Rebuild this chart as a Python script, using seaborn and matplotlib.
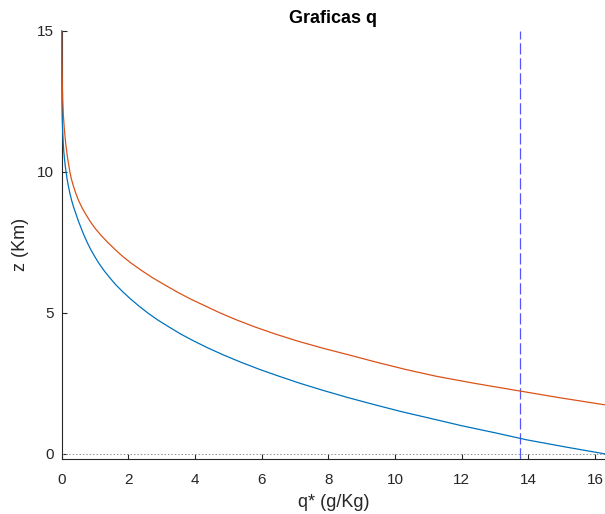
import matplotlib
matplotlib.use("Agg")
import matplotlib.pyplot as plt
import seaborn as sns
import pandas as pd

# --- data (height z in km, q* in g/kg) ---
z_blue = [0.0, 0.25, 0.5, 0.75, 1.0, 1.25, 1.5, 1.75, 2.0, 2.25, 2.5, 2.75,
          3.0, 3.25, 3.5, 3.75, 4.0, 4.25, 4.5, 4.75, 5.0, 5.25, 5.5, 5.75,
          6.0, 6.25, 6.5, 6.75, 7.0, 7.25, 7.5, 7.75, 8.0, 8.25, 8.5, 8.75,
          9.0, 9.25, 9.5, 9.75, 10.0, 10.25, 10.5, 10.75, 11.0, 11.5, 12.0,
          12.5, 13.0, 14.0, 15.0]
q_blue = [16.3, 15.1, 13.95, 13.0, 12.0, 11.1, 10.19, 9.37, 8.58, 7.85, 7.16, 6.53,
          5.93, 5.38, 4.87, 4.40, 3.97, 3.57, 3.22, 2.88, 2.58, 2.31, 2.06, 1.83,
          1.62, 1.44, 1.27, 1.12, 0.99, 0.87, 0.764, 0.669, 0.585, 0.502, 0.43, 0.356,
          0.295, 0.243, 0.2, 0.161, 0.13, 0.102, 0.08, 0.061, 0.047, 0.026, 0.014,
          0.007, 0.0035, 0.0008, 0.0002]

z_orange = [1.74, 2.0, 2.25, 2.5, 2.75, 3.0, 3.25, 3.5, 3.75, 4.0, 4.25, 4.5,
            4.75, 5.0, 5.25, 5.5, 5.75, 6.0, 6.25, 6.5, 6.75, 7.0, 7.25, 7.5,
            7.75, 8.0, 8.25, 8.5, 8.75, 9.0, 9.25, 9.5, 9.75, 10.0, 10.5, 11.0,
            11.5, 12.0, 12.5, 13.0, 13.5, 14.0, 14.5, 15.0]
q_orange = [16.3, 14.9, 13.65, 12.4, 11.25, 10.3, 9.45, 8.65, 7.83, 7.08, 6.41, 5.8,
            5.25, 4.75, 4.3, 3.85, 3.45, 3.08, 2.72, 2.4, 2.1, 1.83, 1.6, 1.38,
            1.18, 1.0, 0.85, 0.72, 0.6, 0.5, 0.42, 0.35, 0.29, 0.245, 0.175, 0.12,
            0.08, 0.05, 0.032, 0.02, 0.012, 0.007, 0.003, 0.0]

q_ref = 13.75          # vertical dashed line
x_ticks = [0, 2, 4, 6, 8, 10, 12, 14, 16]
y_ticks = [0, 5, 10, 15]
title = "Graficas q"
xlabel = "q* (g/Kg)"
ylabel = "z (Km)"

sns.set_theme(style="white")
plt.rcParams['font.family'] = ['Liberation Sans', 'DejaVu Sans']

fig = plt.figure(figsize=(6.05, 5.14), dpi=100)
ax = fig.add_axes([0.102, 0.107, 0.898, 0.833])

df = pd.concat([
    pd.DataFrame({"q": q_blue, "z": z_blue, "s": "blue"}),
    pd.DataFrame({"q": q_orange, "z": z_orange, "s": "orange"}),
])
sns.lineplot(data=df, x="q", y="z", hue="s", sort=False, estimator=None,
             palette={"blue": "#0072BD", "orange": "#D95319"},
             linewidth=0.9, legend=False, ax=ax, zorder=3, clip_on=False)

ax.axvline(q_ref, color="#5555ff", linewidth=0.9, linestyle=(0, (9, 3)))
ax.axhline(0, color="#909090", linewidth=0.7, linestyle=(0, (1.5, 2)))

ax.set_xlim(0, 16.3)
ax.set_ylim(-0.18, 15)
ax.set_xticks(x_ticks)
ax.set_yticks(y_ticks)

dark = "#262626"
for side in ["top", "right"]:
    ax.spines[side].set_visible(False)
for side in ["left", "bottom"]:
    ax.spines[side].set_color(dark)
    ax.spines[side].set_linewidth(0.8)
ax.tick_params(direction="in", length=3.6, width=0.8, colors=dark,
               labelsize=11, bottom=True, left=True)
ax.tick_params(axis="x", pad=10)
ax.tick_params(axis="y", pad=6)

ax.set_title(title, fontsize=13, fontweight="bold", color="black", pad=6)
ax.set_xlabel(xlabel, fontsize=13, color=dark, labelpad=5)
ax.set_ylabel(ylabel, fontsize=13, color=dark, labelpad=5)

fig.savefig("out.png", dpi=100)
